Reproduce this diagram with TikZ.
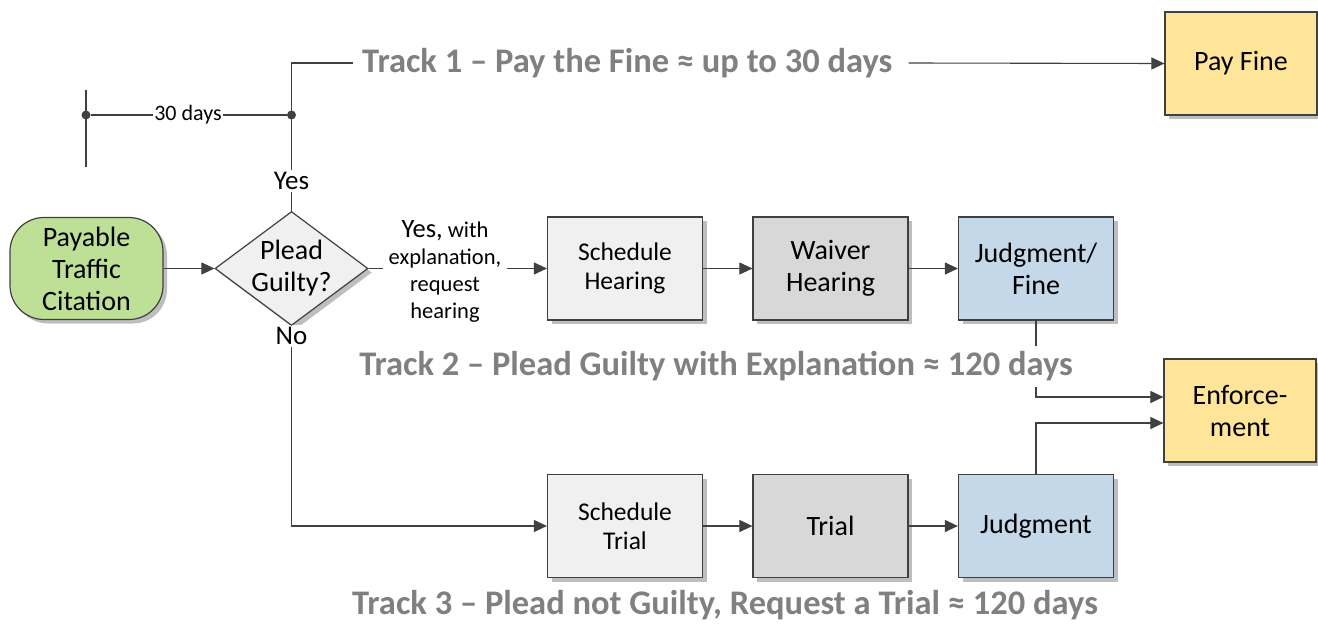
\documentclass[tikz,border=0pt]{standalone}
\usepackage{fontspec}
\setmainfont{Carlito}
\usetikzlibrary{shapes.geometric,shadows,arrows.meta,calc}
\definecolor{lineC}{HTML}{404040}
\definecolor{greenF}{RGB}{190,224,150}
\definecolor{lightF}{RGB}{240,240,240}
\definecolor{midF}{RGB}{216,216,216}
\definecolor{blueF}{RGB}{197,216,233}
\definecolor{yellowF}{RGB}{255,229,153}
\definecolor{titleC}{RGB}{128,128,128}
\definecolor{shadowC}{RGB}{190,190,190}
\tikzset{
  shd/.style={drop shadow={shadow xshift=4pt,shadow yshift=-4pt,fill=shadowC,opacity=1}},
  box/.style={draw=lineC,line width=1.2pt,shd,minimum width=155pt,minimum height=103pt,
    align=center,inner sep=0pt,font=\fontsize{28}{32}\selectfont},
  sbox/.style={box,font=\fontsize{25.5}{28.5}\selectfont},
  conn/.style={draw=lineC,line width=1.1pt},
  arr/.style={conn,-{Triangle[length=13pt,width=12pt]}},
  lbl/.style={fill=white,align=center,inner sep=2pt,font=\fontsize{27}{31}\selectfont},
  ttl/.style={fill=white,text=titleC,inner ysep=0pt,font=\fontsize{34.5}{40}\selectfont\bfseries},
  dot/.style={circle,fill=lineC,inner sep=0pt,minimum size=9pt},
}
\begin{document}
\begin{tikzpicture}[x=1pt,y=-1pt]
\useasboundingbox (0,0) rectangle (1318,632);
% nodes
\node[box,fill=greenF,rounded corners=34pt,minimum width=153pt,minimum height=102pt] (cit) at (86.5,268.5) {Payable\\Traffic\\Citation};
\node[diamond,draw=lineC,line width=1.2pt,fill=lightF,shd,minimum width=153pt,minimum height=114pt,inner sep=0pt,
  label={[align=center,font=\fontsize{28}{32}\selectfont]center:Plead\\Guilty?}] (dia) at (291.5,268.5) {};
\node[sbox,fill=lightF] (sh) at (625,268.5) {Schedule\\Hearing};
\node[box,fill=midF] (wh) at (830.5,268.5) {Waiver\\Hearing};
\node[box,fill=blueF] (jf) at (1036,268.5) {Judgment/\\Fine};
\node[sbox,fill=lightF] (st) at (625,526) {Schedule\\Trial};
\node[box,fill=midF] (tr) at (830.5,526) {Trial};
\node[box,fill=blueF] (ju) at (1036,526) {Judgment};
\node[box,fill=yellowF,minimum width=152pt] (pf) at (1241,63.5) {Pay Fine};
\node[box,fill=yellowF,minimum width=152pt] (en) at (1240,410.5) {Enforce-\\ment};
% labels
\node[lbl] (yes) at (291.5,181) {Yes};
\node[lbl] (no) at (291.5,336) {No};
\node[lbl,font=\fontsize{22.5}{27}\selectfont,inner xsep=6pt] (yw) at (445,271) {{\fontsize{26.5}{27}\selectfont Yes,} with\\explanation,\\request\\hearing};
\node[dot] (d1) at (86,115) {};
\node[dot] (d2) at (291.5,115) {};
\coordinate (v1) at (86,90);
\coordinate (v2) at (86,167);
\node[fill=white,inner sep=1pt,font=\fontsize{22}{26}\selectfont] (days) at (188,115) {30 days};
\node[ttl,anchor=west,inner xsep=9pt] (t1) at (353,63) {Track 1 – Pay the Fine ≈ up to 30 days};
% connectors
\draw[arr] (cit.east) -- (dia.west);
\draw[conn] (dia.north) -- (yes.south);
\draw[conn] (yes.north) |- (t1.west);
\draw[arr] ([xshift=7pt]t1.east) -- (pf.west);
\draw[conn] (v1) -- (v2);
\draw[conn] (d1) -- (days.west);
\draw[conn] (days.east) -- (d2);
\draw[conn] (dia.east) -- (yw.west |- dia.east);
\draw[arr] (yw.east |- dia.east) -- (sh.west);
\draw[arr] (sh.east) -- (wh.west);
\draw[arr] (wh.east) -- (jf.west);
\draw[conn] (dia.south) -- (no.north);
\draw[arr] (no.south) |- (st.west);
\draw[arr] (st.east) -- (tr.west);
\draw[arr] (tr.east) -- (ju.west);
\draw[arr] (jf.south) |- ($(en.west)+(0,-13.5)$);
\draw[arr] (ju.north) |- ($(en.west)+(0,12.5)$);
% titles over lines
\node[ttl,minimum height=41pt] (t2) at (716,366) {Track 2 – Plead Guilty with Explanation ≈ 120 days};
\node[ttl] (t3) at (725,605) {Track 3 – Plead not Guilty, Request a Trial ≈ 120 days};
\end{tikzpicture}
\end{document}
